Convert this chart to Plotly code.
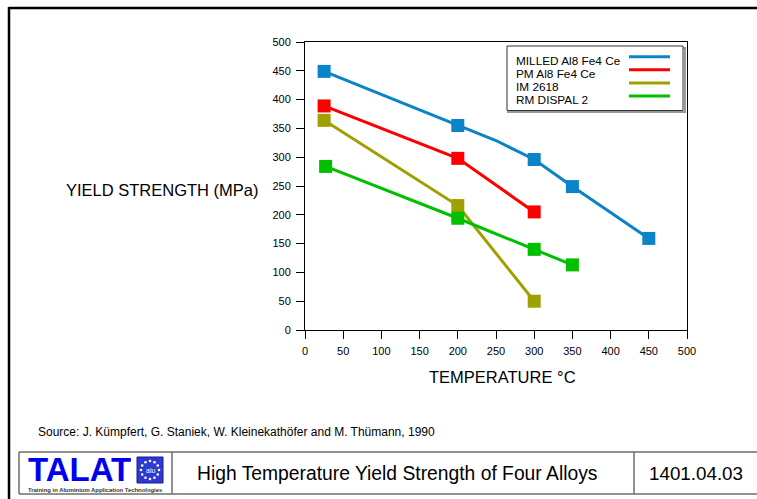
import math
import plotly.graph_objects as go

# ---------------- data ----------------
names = ["MILLED Al8 Fe4 Ce", "PM Al8 Fe4 Ce", "IM 2618", "RM DISPAL 2"]
colors = ["#0a84c6", "#ff0000", "#a0a000", "#00c000"]

milled_x = [25, 200, 250, 300, 350, 450]
milled_y = [449, 355, 329, 296, 249, 159]
milled_marker = [True, True, False, True, True, True]

pm_x = [25, 200, 300]
pm_y = [389, 298, 205]

im_x = [25, 200, 300]
im_y = [364, 216, 50]

rm_x = [27, 200, 300, 350]
rm_y = [284, 194, 140, 113]

x_ticks = [0, 50, 100, 150, 200, 250, 300, 350, 400, 450, 500]
y_ticks = [0, 50, 100, 150, 200, 250, 300, 350, 400, 450, 500]

x_title = "TEMPERATURE °C"
y_title = "YIELD STRENGTH (MPa)"
source_text = "Source: J. Kümpfert, G. Staniek, W. Kleinekathöfer and M. Thümann, 1990"
footer_title = "High Temperature Yield Strength of Four Alloys"
footer_code = "1401.04.03"

FONT = "Liberation Sans, Arial, sans-serif"

# ---------------- geometry helpers ----------------
W, H = 757, 499
L, R, T, B = 305, 70, 42, 169
PW = W - L - R
PH = H - T - B


def X(px):
    return (px - L) / PW


def Y(py):
    return (H - B - py) / PH


fig = go.Figure()

series = [
    (milled_x, milled_y, [13 if m else 0 for m in milled_marker]),
    (pm_x, pm_y, 13),
    (im_x, im_y, 13),
    (rm_x, rm_y, 13),
]
for (xs, ys, sz), name, c in zip(series, names, colors):
    fig.add_trace(go.Scatter(
        x=xs, y=ys, name=name, mode="lines+markers",
        line=dict(color=c, width=3),
        marker=dict(symbol="square", size=sz, color=c, opacity=1, line=dict(width=0)),
        showlegend=False, cliponaxis=False,
    ))

axis_common = dict(
    showgrid=False, zeroline=False, showline=True, linecolor="black",
    linewidth=1, mirror=True, ticks="outside", ticklen=8, tickwidth=1,
    tickcolor="black", tickfont=dict(family=FONT, size=11, color="black"),
    ticklabelstandoff=3,
)
fig.update_xaxes(range=[0, 500], tickvals=x_ticks, **axis_common)
fig.update_yaxes(range=[0, 500], tickvals=y_ticks, **axis_common)

shapes = []
annotations = []

# axis titles
annotations.append(dict(xref="paper", yref="paper", x=X(261), y=Y(190),
                        xanchor="right", yanchor="middle", showarrow=False,
                        text=y_title, font=dict(family=FONT, size=16.5, color="black")))
annotations.append(dict(xref="paper", yref="paper", x=X(502), y=Y(377),
                        xanchor="center", yanchor="middle", showarrow=False,
                        text=x_title, font=dict(family=FONT, size=16.5, color="black")))

# manual legend
shapes.append(dict(type="rect", xref="paper", yref="paper",
                   x0=X(508), x1=X(685), y0=Y(48), y1=Y(112),
                   line=dict(color="#999999", width=2), fillcolor="rgba(0,0,0,0)"))
shapes.append(dict(type="rect", xref="paper", yref="paper",
                   x0=X(507), x1=X(683), y0=Y(46), y1=Y(110.5),
                   line=dict(color="#333333", width=1), fillcolor="white"))
for i, (name, c) in enumerate(zip(names, colors)):
    ty = 60.7 + i * 13.1
    ly = ty - 4
    annotations.append(dict(xref="paper", yref="paper", x=X(514), y=Y(ty),
                            xanchor="left", yanchor="middle", showarrow=False,
                            text=name, font=dict(family=FONT, size=11.8, color="black")))
    shapes.append(dict(type="line", xref="paper", yref="paper",
                       x0=X(629), x1=X(670), y0=Y(ly), y1=Y(ly),
                       line=dict(color=c, width=3)))

# page frame
shapes.append(dict(type="line", xref="paper", yref="paper",
                   x0=X(9), x1=X(757), y0=Y(8), y1=Y(8),
                   line=dict(color="black", width=2.5)))
shapes.append(dict(type="line", xref="paper", yref="paper",
                   x0=X(9), x1=X(9), y0=Y(7), y1=Y(499),
                   line=dict(color="black", width=2.5)))

# source
annotations.append(dict(xref="paper", yref="paper", x=X(36), y=Y(432),
                        xanchor="left", yanchor="middle", showarrow=False,
                        text=source_text,
                        font=dict(family=FONT, size=12, color="black")))

# footer table
gray = dict(color="#6e6e6e", width=1.5)
shapes.append(dict(type="line", xref="paper", yref="paper", x0=X(19), x1=X(757),
                   y0=Y(452), y1=Y(452), line=gray))
shapes.append(dict(type="line", xref="paper", yref="paper", x0=X(19), x1=X(757),
                   y0=Y(494), y1=Y(494), line=gray))
for vx in [19, 172, 634]:
    shapes.append(dict(type="line", xref="paper", yref="paper", x0=X(vx), x1=X(vx),
                       y0=Y(452), y1=Y(494), line=gray))

annotations.append(dict(xref="paper", yref="paper", x=X(397), y=Y(473),
                        xanchor="center", yanchor="middle", showarrow=False,
                        text=footer_title, font=dict(family=FONT, size=19.3, color="black")))
annotations.append(dict(xref="paper", yref="paper", x=X(696), y=Y(473),
                        xanchor="center", yanchor="middle", showarrow=False,
                        text=footer_code, font=dict(family=FONT, size=18.8, color="black")))

# TALAT logo
annotations.append(dict(xref="paper", yref="paper", x=X(26), y=Y(468.5),
                        xanchor="left", yanchor="middle", showarrow=False,
                        height=28,
                        text="<b>TALAT</b>",
                        font=dict(family=FONT, size=33, color="#0000ee")))
annotations.append(dict(xref="paper", yref="paper", x=X(95.5), y=Y(490.3),
                        xanchor="center", yanchor="middle", showarrow=False,
                        height=6,
                        text="<b>Training in Aluminium Application Technologies</b>",
                        font=dict(family=FONT, size=5.9, color="#333333")))
shapes.append(dict(type="rect", xref="paper", yref="paper",
                   x0=X(137), x1=X(163), y0=Y(457), y1=Y(483),
                   line=dict(color="#1a1a8a", width=1), fillcolor="#2c3ad0"))
cx, cy, rr = 150, 470, 9
for k in range(12):
    a = 2 * math.pi * k / 12
    sx, sy = cx + rr * math.cos(a), cy + rr * math.sin(a)
    shapes.append(dict(type="circle", xref="paper", yref="paper",
                       x0=X(sx - 1.3), x1=X(sx + 1.3), y0=Y(sy - 1.3), y1=Y(sy + 1.3),
                       line=dict(width=0), fillcolor="white"))
annotations.append(dict(xref="paper", yref="paper", x=X(150), y=Y(470),
                        xanchor="center", yanchor="middle", showarrow=False,
                        text="alu", font=dict(family=FONT, size=7, color="white")))

fig.update_layout(
    width=W, height=H,
    margin=dict(l=L, r=R, t=T, b=B, pad=0),
    paper_bgcolor="white", plot_bgcolor="white",
    font=dict(family=FONT, color="black"),
    shapes=shapes, annotations=annotations,
    showlegend=False,
)

fig.write_html("out.html")
